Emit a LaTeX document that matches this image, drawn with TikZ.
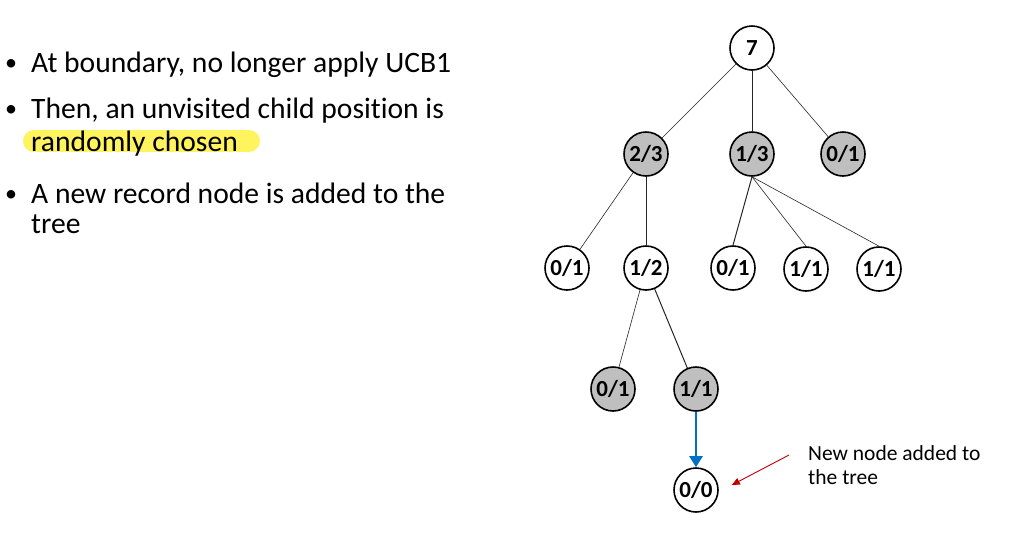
\documentclass[tikz,border=0pt]{standalone}
\usepackage{fontspec}
\setmainfont{Carlito}[Ligatures=NoCommon]
\usetikzlibrary{arrows.meta}
\definecolor{hlyellow}{RGB}{255,243,94}
\definecolor{nodegray}{RGB}{191,191,191}
\definecolor{arrowblue}{RGB}{0,112,192}
\definecolor{arrowred}{RGB}{192,0,0}

\begin{document}
\begin{tikzpicture}[x=1pt,y=-1pt,
    tnode/.style={circle,draw,line width=1.6pt,minimum size=44pt,inner sep=0pt,fill=white,
      font=\fontsize{23}{23}\selectfont\bfseries},
    visited/.style={tnode,fill=nodegray},
    edge/.style={line width=0.6pt,black!85},
    bullettext/.style={anchor=base west,inner sep=0pt,font=\fontsize{29.6}{29.6}\selectfont},
    notetext/.style={anchor=base west,inner sep=0pt,font=\fontsize{21.5}{21.5}\selectfont}]
  \useasboundingbox (0,0) rectangle (1012,558);
  % highlight behind the second item
  \draw[hlyellow,line width=22pt,line cap=round] (34,141) -- (249,141);
  % bullet list
  \foreach \y/\n in {72/d1,118/d2,203/d3}
    \node[bullettext,font=\fontsize{24}{24}\selectfont] (\n) at (5,\y-2) {\textbullet};
  \node[bullettext] (b1) at (31,72) {At boundary, no longer apply UCB1};
  \node[bullettext] (b2) at (31,118) {Then, an unvisited child position is};
  \node[bullettext] (b2b) at (31,151) {randomly chosen};
  \node[bullettext] (b3) at (31,203) {A new record node is added to the};
  \node[bullettext] (b3b) at (31,233) {tree};
  % tree
  \node[tnode] (root) at (752,48) {7};
  \node[visited] (n23) at (646,154) {2/3};
  \node[visited] (n13) at (752,154) {1/3};
  \node[visited] (n01a) at (843,154) {0/1};
  \node[tnode] (n01b) at (567,268) {0/1};
  \node[tnode] (n12) at (646,268) {1/2};
  \node[tnode] (n01c) at (733,268) {0/1};
  \node[tnode] (n11a) at (806,269) {1/1};
  \node[tnode] (n11b) at (879,269) {1/1};
  \node[visited] (n01d) at (613,389) {0/1};
  \node[visited] (n11c) at (696,389) {1/1};
  \node[tnode] (n00) at (696,490) {0/0};
  \foreach \a/\b in {root/n23,root/n13,root/n01a,n23/n01b,n23/n12,n12/n01d}
    \draw[edge] (\a) -- (\b);
  \draw[edge,line width=1pt] (n12) -- (n11c);
  \draw[edge,line width=1pt] (n13.south) -- (n01c.north);
  \foreach \b in {n11a,n11b}
    \draw[edge] (n13.south) -- (\b.north);
  % expansion step
  \draw[arrowblue,line width=2.4pt,-{Triangle[length=11pt,width=13pt]}] (n11c) -- (n00);
  \node[notetext] (note1) at (808,460) {New node added to};
  \node[notetext] (note2) at (808,484) {the tree};
  \coordinate (tail) at (789,455);
  \draw[arrowred,line width=0.9pt,-{Triangle[length=8pt,width=7pt]}] (tail) -- ([shift={(13,-5)}]n00.east);
\end{tikzpicture}
\end{document}
